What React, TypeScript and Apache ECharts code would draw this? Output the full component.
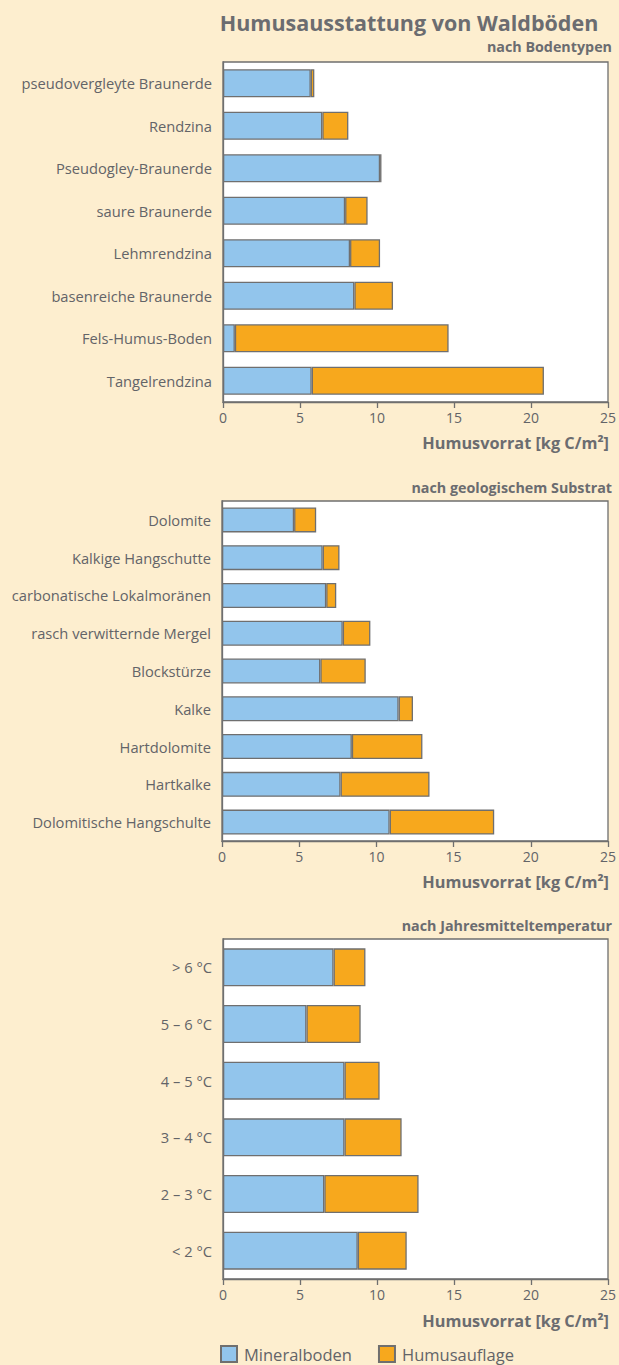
import React, { useEffect, useRef } from "react";
import * as echarts from "echarts";

const categoriesSoil = [
  "pseudovergleyte Braunerde",
  "Rendzina",
  "Pseudogley-Braunerde",
  "saure Braunerde",
  "Lehmrendzina",
  "basenreiche Braunerde",
  "Fels-Humus-Boden",
  "Tangelrendzina",
];
const mineralSoil = [5.7, 6.45, 10.2, 7.93, 8.25, 8.53, 0.77, 5.76];
const humusSoil = [0.23, 1.69, 0.09, 1.46, 1.95, 2.51, 13.88, 15.08];

const categoriesGeo = [
  "Dolomite",
  "Kalkige Hangschutte",
  "carbonatische Lokalmoränen",
  "rasch verwitternde Mergel",
  "Blockstürze",
  "Kalke",
  "Hartdolomite",
  "Hartkalke",
  "Dolomitische Hangschulte",
];
const mineralGeo = [4.67, 6.52, 6.75, 7.82, 6.37, 11.44, 8.41, 7.68, 10.86];
const humusGeo = [1.43, 1.09, 0.65, 1.79, 2.94, 0.93, 4.57, 5.76, 6.77];

const categoriesTemp = ["> 6 °C", "5 – 6 °C", "4 – 5 °C", "3 – 4 °C", "2 – 3 °C", "< 2 °C"];
const mineralTemp = [7.18, 5.42, 7.89, 7.89, 6.58, 8.75];
const humusTemp = [2.07, 3.52, 2.28, 3.71, 6.12, 3.18];

const xTicks = { min: 0, max: 25, interval: 5 };

const titleText = "Humusausstattung von Waldböden";
const subtitles = ["nach Bodentypen", "nach geologischem Substrat", "nach Jahresmitteltemperatur"];
const axisTitle = "Humusvorrat [kg C/m²]";
const seriesNames = ["Mineralboden", "Humusauflage"];

const BG = "#fdeecf";
const BLUE = "#92c5ec";
const ORANGE = "#f7a81d";
const BORDER = "#6f6f6f";
const TEXT = "#636468";
const FONT = "'Open Sans', 'Noto Sans', sans-serif";

export default function App() {
  const ref = useRef<HTMLDivElement>(null);

  useEffect(() => {
    if (!ref.current) return;
    const chart = echarts.init(ref.current, null, { renderer: "svg" });

    const grids = [
      { left: 223, top: 62, width: 388, height: 340 },
      { left: 222, top: 501, width: 388, height: 340 },
      { left: 223, top: 939, width: 388, height: 340 },
    ];
    const cats = [categoriesSoil, categoriesGeo, categoriesTemp];
    const mins = [mineralSoil, mineralGeo, mineralTemp];
    const hums = [humusSoil, humusGeo, humusTemp];
    const barWidths = [28, 25, 38];
    const axisNameY = [443, 882, 1321];
    const subtitleY = [46.5, 487, 925];

    const xAxes = grids.map((_, i) => ({
      type: "value",
      gridIndex: i,
      min: xTicks.min,
      max: xTicks.max,
      interval: xTicks.interval,
      splitLine: { show: false },
      axisLine: { show: true, lineStyle: { color: BORDER, width: 1.3 } },
      axisTick: { show: true, length: 6, lineStyle: { color: BORDER, width: 1.3 } },
      axisLabel: { color: TEXT, fontSize: 14, fontFamily: FONT, margin: 8 },
    }));

    const yAxes = grids.map((_, i) => ({
      type: "category",
      gridIndex: i,
      data: cats[i],
      inverse: true,
      axisLine: { show: true, lineStyle: { color: BORDER, width: 1.3 } },
      axisTick: { show: false },
      axisLabel: { color: TEXT, fontSize: 14.7, fontFamily: FONT, margin: 11 },
    }));

    const series: any[] = [];
    grids.forEach((_, i) => {
      series.push({
        type: "bar",
        name: seriesNames[0],
        xAxisIndex: i,
        yAxisIndex: i,
        stack: "s" + i,
        data: mins[i],
        barWidth: barWidths[i],
        itemStyle: { color: BLUE, borderColor: BORDER, borderWidth: 1.3 },
      });
      series.push({
        type: "bar",
        name: seriesNames[1],
        xAxisIndex: i,
        yAxisIndex: i,
        stack: "s" + i,
        data: hums[i],
        barWidth: barWidths[i],
        itemStyle: { color: ORANGE, borderColor: BORDER, borderWidth: 1.3 },
      });
    });

    const graphics: any[] = [
      {
        type: "text",
        x: 409,
        y: 22,
        style: {
          text: titleText,
          fill: "#6b6c70",
          font: `bold 21.5px ${FONT}`,
          textAlign: "center",
          textVerticalAlign: "middle",
        },
      },
    ];
    subtitles.forEach((s, i) => {
      graphics.push({
        type: "text",
        x: 612,
        y: subtitleY[i],
        style: {
          text: s,
          fill: "#6b6c70",
          font: `bold 14.3px ${FONT}`,
          textAlign: "right",
          textVerticalAlign: "middle",
        },
      });
      graphics.push({
        type: "text",
        x: 609,
        y: axisNameY[i],
        style: {
          text: axisTitle,
          fill: "#6b6c70",
          font: `bold 16.3px ${FONT}`,
          textAlign: "right",
          textVerticalAlign: "middle",
        },
      });
    });

    chart.setOption({
      animation: false,
      backgroundColor: BG,
      grid: grids.map((g) => ({
        ...g,
        show: true,
        backgroundColor: "#ffffff",
        borderColor: BORDER,
        borderWidth: 1.3,
        containLabel: false,
      })),
      xAxis: xAxes,
      yAxis: yAxes,
      series,
      legend: {
        data: seriesNames,
        left: 220,
        top: 1345,
        icon: "rect",
        itemWidth: 16,
        itemHeight: 16,
        itemGap: 26,
        textStyle: {
          color: TEXT,
          fontSize: 16.5,
          lineHeight: 16,
          fontFamily: FONT,
          padding: [0, 0, 0, 2],
        },
        padding: 0,
      },
      graphic: graphics,
    });

    return () => chart.dispose();
  }, []);

  return (
    <div
      ref={ref}
      style={{ position: "absolute", left: 0, top: 0, width: 619, height: 1365, background: BG }}
    />
  );
}
